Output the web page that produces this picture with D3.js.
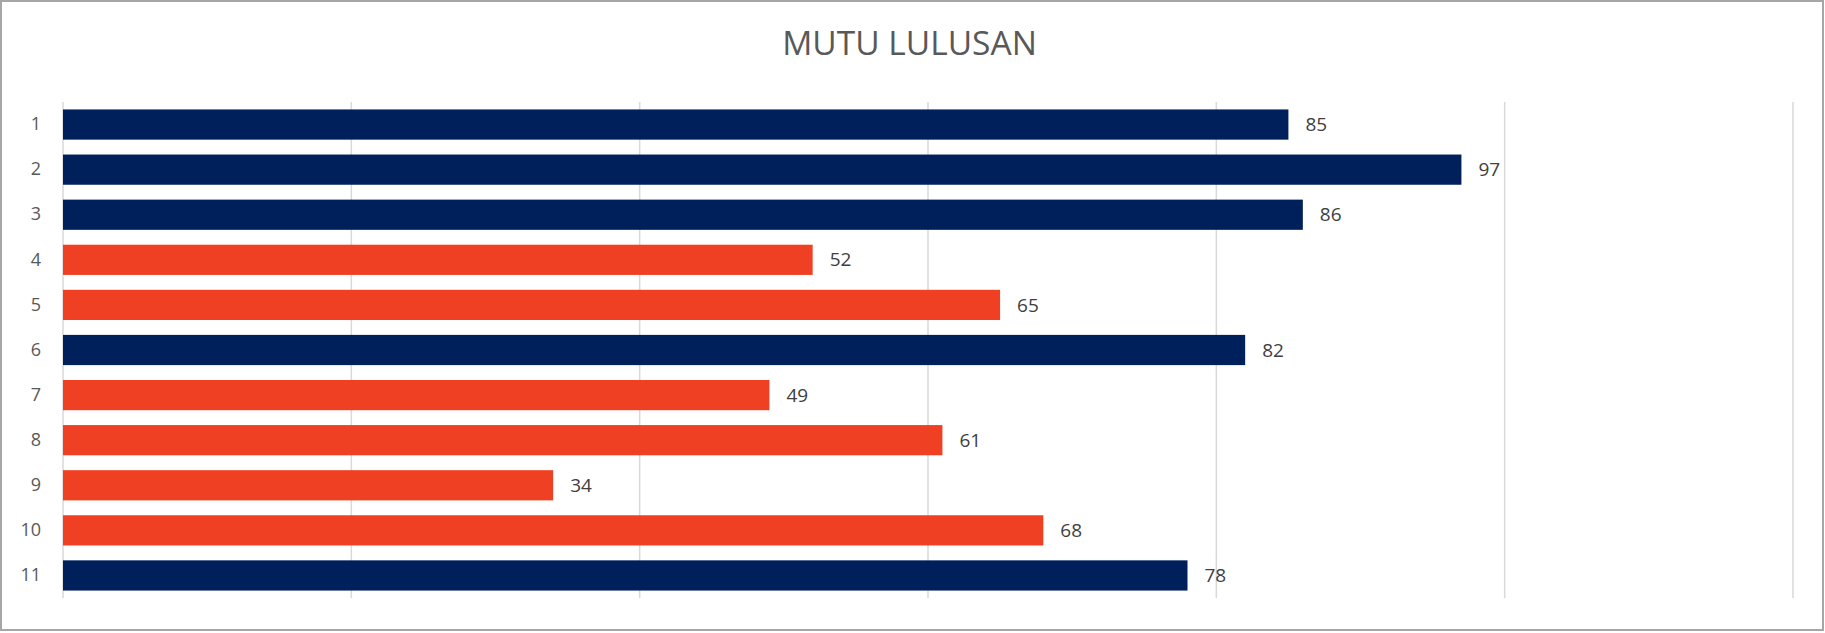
<!DOCTYPE html>
<html>
<head>
<meta charset="utf-8">
<script src="https://cdn.jsdelivr.net/npm/d3@7"></script>
<style>
  html, body { margin: 0; padding: 0; background: #fff; }
  svg { display: block; }
</style>
</head>
<body>
<svg id="chart" width="1825" height="633"></svg>
<script>
const title = "MUTU LULUSAN";
const categories = ["1", "2", "3", "4", "5", "6", "7", "8", "9", "10", "11"];
const values = [85, 97, 86, 52, 65, 82, 49, 61, 34, 68, 78];
const xTicks = [0, 20, 40, 60, 80, 100, 120];

const W = 1825, H = 633;
const margin = { left: 63, right: 32, top: 102, bottom: 35 };

const svg = d3.select("#chart");

svg.append("rect")
  .attr("x", 1).attr("y", 1)
  .attr("width", W - 3).attr("height", H - 4)
  .attr("fill", "#fff")
  .attr("stroke", "#a6a6a6")
  .attr("stroke-width", 2);

const x = d3.scaleLinear().domain([0, 120]).range([margin.left, W - margin.right]);
const y = d3.scaleBand().domain(categories).range([margin.top, H - margin.bottom]).paddingInner(0.33).paddingOuter(0.165);
const color = d3.scaleThreshold().domain([70]).range(["#EF4023", "#00205C"]);

// gridlines
svg.append("g")
  .selectAll("line")
  .data(xTicks)
  .join("line")
  .attr("x1", d => x(d)).attr("x2", d => x(d))
  .attr("y1", margin.top).attr("y2", H - margin.bottom)
  .attr("stroke", "#d9d9d9")
  .attr("stroke-width", 1.5);

// title
svg.append("text")
  .attr("x", W / 2 - 3)
  .attr("y", 55)
  .attr("text-anchor", "middle")
  .attr("font-family", "'Open Sans', sans-serif")
  .attr("font-size", 33.5)
  .attr("fill", "#595959")
  .text(title);

// category axis labels
const yAxis = d3.axisLeft(y).tickSize(0).tickPadding(22);
const gy = svg.append("g").attr("transform", `translate(${margin.left},0)`).call(yAxis);
gy.select(".domain").remove();
gy.selectAll("text")
  .attr("font-family", "'Open Sans', sans-serif")
  .attr("font-size", 18)
  .attr("fill", "#595959");

const data = categories.map((c, i) => ({ c, v: values[i] }));

// bars
svg.append("g")
  .selectAll("rect")
  .data(data)
  .join("rect")
  .attr("x", x(0))
  .attr("y", d => y(d.c))
  .attr("width", d => x(d.v) - x(0))
  .attr("height", y.bandwidth())
  .attr("fill", d => color(d.v));

// value labels
svg.append("g")
  .selectAll("text")
  .data(data)
  .join("text")
  .attr("x", d => x(d.v) + 17)
  .attr("y", d => y(d.c) + y.bandwidth() / 2)
  .attr("dy", "0.35em")
  .attr("font-family", "'Open Sans', sans-serif")
  .attr("font-size", 19)
  .attr("fill", "#404040")
  .text(d => d.v);
</script>
</body>
</html>
